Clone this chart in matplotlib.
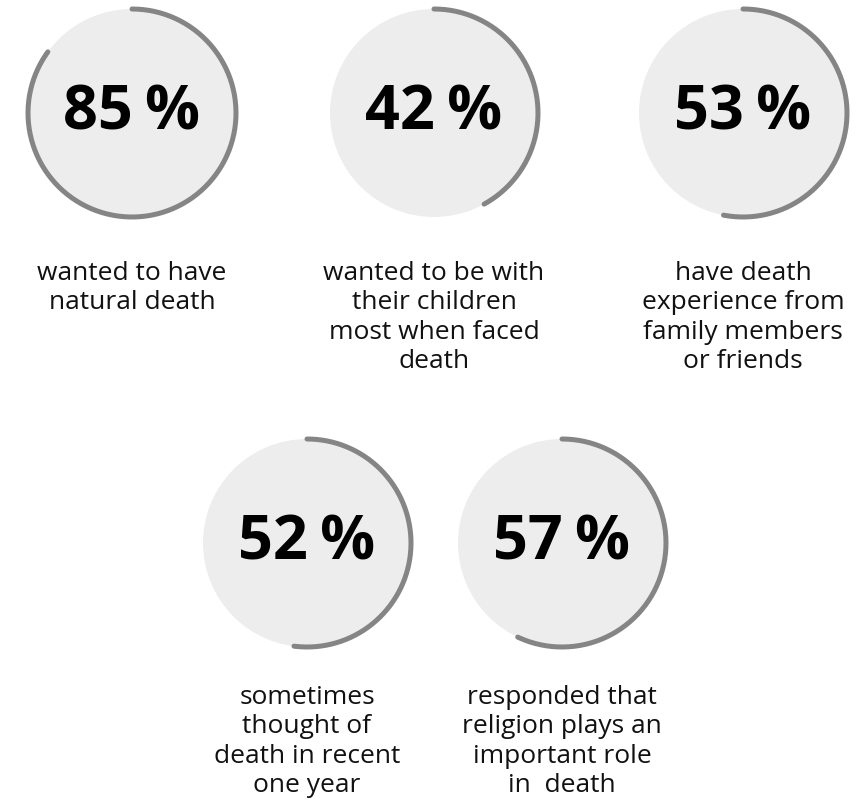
import numpy as np
import matplotlib.pyplot as plt
from matplotlib.patches import Circle

plt.rcParams['font.family'] = ['Open Sans', 'DejaVu Sans']

# Survey shares (percent) and their captions
values = [85, 42, 53, 52, 57]
captions = [
    "wanted to have\nnatural death",
    "wanted to be with\ntheir children\nmost when faced\ndeath",
    "have death\nexperience from\nfamily members\nor friends",
    "sometimes\nthought of\ndeath in recent\none year",
    "responded that\nreligion plays an\nimportant role\nin  death",
]

# circle centres and caption gap, in pixels (from top-left)
centers = [(132, 113), (434, 113), (743, 113), (307, 543), (562, 543)]
caption_gap = [148, 148, 148, 142, 142]
radius = 104

W, H = 857, 811
fig = plt.figure(figsize=(W / 100, H / 100), dpi=100)
ax = fig.add_axes([0, 0, 1, 1])
ax.set_xlim(0, W)
ax.set_ylim(0, H)
ax.set_aspect('equal')
ax.axis('off')

for (cx, cy), gap, v, cap in zip(centers, caption_gap, values, captions):
    y = H - cy
    ax.add_patch(Circle((cx, y), radius, facecolor='#ededed', edgecolor='none'))
    # arc from 12 o'clock, clockwise, by the share
    t = np.linspace(np.pi / 2, np.pi / 2 - 2 * np.pi * v / 100, 200)
    ax.plot(cx + radius * np.cos(t), y + radius * np.sin(t), color='#858585',
            lw=3.6, solid_capstyle='round')
    ax.text(cx, y + 6, f"{v}\u2009%", ha='center', va='center_baseline',
            fontsize=44, fontweight='bold', color='black')
    ax.text(cx, y - gap, cap, ha='center', va='top', fontsize=19,
            color='#111111', linespacing=1.23)

fig.savefig('out.png', dpi=100)
